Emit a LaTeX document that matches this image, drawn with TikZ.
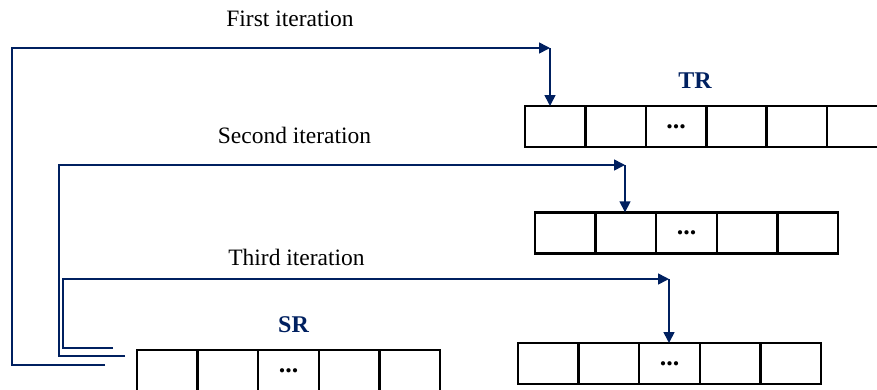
\documentclass[tikz,border=0pt]{standalone}
\usepackage{fontspec}
\setmainfont{Liberation Serif}
\usetikzlibrary{arrows.meta}
\definecolor{navy}{RGB}{0,32,96}
\newcommand{\mydots}{\raisebox{-2.5pt}{...}\hspace{10pt}}
\begin{document}
\begin{tikzpicture}[x=1pt,y=-1pt,
  conn/.style={draw=navy,line width=1.6pt,line join=miter},
  arr/.style={conn,-{Triangle[length=11pt,width=11pt]}},
  cell/.style={draw=black,line width=2.4pt,minimum width=60.6pt,minimum height=41pt,inner sep=0pt,outer sep=0pt,font=\fontsize{26}{30}\selectfont\bfseries},
  lbl/.style={font=\fontsize{23.5}{28}\selectfont,anchor=base,inner sep=0pt},
  ttl/.style={font=\fontsize{24}{28}\selectfont\bfseries,text=navy,inner sep=0pt}]
\path[use as bounding box] (0,0) rectangle (877,389);
\clip (0,0) rectangle (877,389);
% TR row
\foreach \i/\t in {1/,2/,3/\mydots,4/,5/,6/}{
  \node[cell] (tr\i) at ({525+30.3+60.4*(\i-1)},126.5) {\t};
}
% second row
\foreach \i/\t in {1/,2/,3/\mydots,4/,5/}{
  \node[cell] (rb\i) at ({535+30.3+60.6*(\i-1)},232.8) {\t};
}
% third row
\foreach \i/\t in {1/,2/,3/\mydots,4/,5/}{
  \node[cell] (rc\i) at ({518+30.3+60.6*(\i-1)},363.5) {\t};
}
% SR row
\foreach \i/\t in {1/,2/,3/\mydots,4/,5/}{
  \node[cell] (sr\i) at ({137+30.3+60.6*(\i-1)},370.5) {\t};
}
\node[ttl] (TR) at (695,80.5) {TR};
\node[ttl] (SR) at (293.5,324.5) {SR};
\node[lbl] (l1) at (290,26.5) {First iteration};
\node[lbl] (l2) at (294.5,143) {Second iteration};
\node[lbl] (l3) at (296.5,265) {Third iteration};
% connectors
\coordinate (s1) at (105,365);
\coordinate (c1) at (550,48);
\coordinate (s2) at (125,356);
\coordinate (c2) at (625,165);
\coordinate (s3) at (113,348);
\coordinate (c3) at (669,279);
\draw[arr] (s1) -- (12,365) -- (12,48) -- (c1);
\draw[arr] (c1) -- (c1 |- tr1.north);
\draw[arr] (s2) -- (59,356) -- (59,165) -- (c2);
\draw[arr] (c2) -- (c2 |- rb2.north);
\draw[arr] (s3) -- (63,348) -- (63,279) -- (c3);
\draw[arr] (c3) -- (c3 |- rc3.north);
\end{tikzpicture}
\end{document}
